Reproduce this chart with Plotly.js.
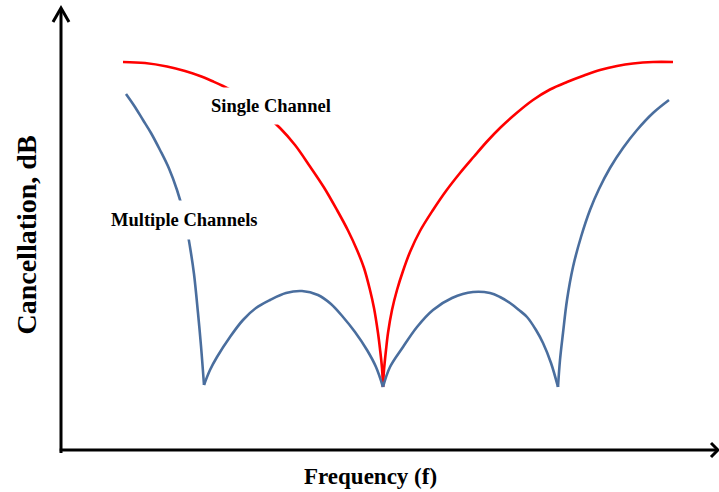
<!DOCTYPE html>
<html>
<head>
<meta charset="utf-8">
<script src="https://cdn.plot.ly/plotly-3.0.1.min.js"></script>
<style>html,body{margin:0;padding:0;background:#fff;}#chart{width:719px;height:492px;}</style>
</head>
<body>
<div id="chart"></div>
<script>
// Single channel curve (frequency, cancellation dB) - arbitrary units
var singleFreq = [12.4,16.8,21.2,24.8,27.8,30.2,32.4,35.8,39.8,43.8,46.8,49.8,52.6,55.2,57.4,59.2,60.6,61.8,62.6,63.4,63.8,64.2,64.4,
  64.6,65.0,65.4,66.2,67.2,68.4,69.8,71.8,74.4,77.0,79.8,82.6,85.2,87.8,91.0,94.4,97.8,101.2,104.6,107.8,111.2,114.4,118.4,122.4];
var singleDb = [78.0,77.8,77.1,76.2,75.2,74.2,73.2,71.3,68.4,64.8,61.4,57.1,52.9,48.4,44.3,40.4,36.8,32.4,28.8,23.8,20.6,16.8,13.0,
  16.4,20.4,23.8,28.4,32.4,36.2,40.0,44.2,48.4,52.2,55.8,59.1,62.1,64.8,67.7,70.4,72.5,74.0,75.3,76.4,77.2,77.7,78.0,78.0];

// Multiple channels curve
var multiFreq = [13.0,14.6,16.4,18.0,19.8,21.6,23.2,24.6,25.8,26.6,27.4,28.0,28.6,
  29.8,31.2,33.8,36.4,39.0,41.8,45.0,48.2,51.4,54.0,56.4,58.8,61.2,63.0,64.4,
  65.8,68.4,71.2,74.4,78.2,82.4,85.8,87.8,89.8,91.6,93.2,95.0,96.4,98.0,99.4,
  99.8,100.4,101.2,102.4,104.0,105.8,107.6,109.8,112.4,115.2,118.4,121.6];
var multiDb = [71.6,69.3,66.4,63.8,60.4,56.7,52.4,47.5,41.0,35.6,27.8,21.2,13.4,
  16.4,19.0,23.0,26.4,28.8,30.4,31.8,32.2,31.4,29.6,27.0,24.0,20.4,17.0,13.0,
  17.0,21.0,25.0,28.4,30.8,32.0,31.8,31.0,29.8,28.4,27.0,24.4,21.8,17.8,13.0,
  18.4,23.8,30.4,37.0,43.0,48.4,52.6,56.8,60.8,64.4,67.8,70.4];

var labels = ["Single Channel", "Multiple Channels"];
var axisTitles = {x: "Frequency (f)", y: "Cancellation, dB"};

var font = "'Liberation Serif', 'Times New Roman', serif";

// split a curve into smooth branches at its cusps (local minima)
function branches(xs, ys, color, name) {
  var out = [], start = 0;
  for (var i = 1; i < xs.length; i++) {
    var isMin = i < xs.length - 1 && ys[i] < ys[i - 1] && ys[i] < ys[i + 1];
    if (isMin || i === xs.length - 1) {
      out.push({x: xs.slice(start, i + 1), y: ys.slice(start, i + 1), mode: "lines", name: name,
        line: {color: color, width: 2.6, shape: "spline", smoothing: 1}, hoverinfo: "skip"});
      start = i;
    }
  }
  return out;
}

var traces = branches(singleFreq, singleDb, "#ff0000", labels[0])
  .concat(branches(multiFreq, multiDb, "#4a6e9e", labels[1]));

var layout = {
  width: 719, height: 492,
  margin: {l: 61, r: 3, t: 12, b: 40},
  paper_bgcolor: "#ffffff", plot_bgcolor: "#ffffff",
  showlegend: false,
  xaxis: {range: [0, 131], visible: false, fixedrange: true},
  yaxis: {range: [0, 88], visible: false, fixedrange: true},
  shapes: [
    {type: "line", xref: "paper", yref: "paper", x0: 0, x1: 0, y0: -0.002, y1: 1.006,
     line: {color: "#000", width: 3}},
    {type: "line", xref: "paper", yref: "paper", x0: -0.002, x1: 1.001, y0: 0.004545, y1: 0.004545,
     line: {color: "#000", width: 3}},
    {type: "path", xref: "paper", yref: "paper",
     path: "M -0.01221 0.97727 L 0 1.00909 L 0.01221 0.97727",
     line: {color: "#000", width: 3}},
    {type: "path", xref: "paper", yref: "paper",
     path: "M 0.99237 0.02045 L 1.00305 0.004545 L 0.99237 -0.01136",
     line: {color: "#000", width: 3}}
  ],
  annotations: [
    {x: 42, y: 69.2, xref: "x", yref: "y", text: labels[0], showarrow: false,
     font: {family: font, size: 18.5, color: "#000", weight: "bold"},
     bgcolor: "#ffffff", borderpad: 8},
    {x: 24.6, y: 46.4, xref: "x", yref: "y", text: labels[1], showarrow: false,
     font: {family: font, size: 18.5, color: "#000", weight: "bold"},
     bgcolor: "#ffffff", borderpad: 9},
    {x: 0.4718, y: -0.0568, xref: "paper", yref: "paper", text: axisTitles.x, showarrow: false,
     xanchor: "center", yanchor: "middle",
     font: {family: font, size: 23, color: "#000", weight: "bold"}},
    {x: -0.0534, y: 0.492, xref: "paper", yref: "paper", text: axisTitles.y, showarrow: false,
     textangle: -90, xanchor: "center", yanchor: "middle",
     font: {family: font, size: 28, color: "#000", weight: "bold"}}
  ]
};

Plotly.newPlot("chart", traces, layout, {staticPlot: true, displayModeBar: false});
</script>
</body>
</html>
